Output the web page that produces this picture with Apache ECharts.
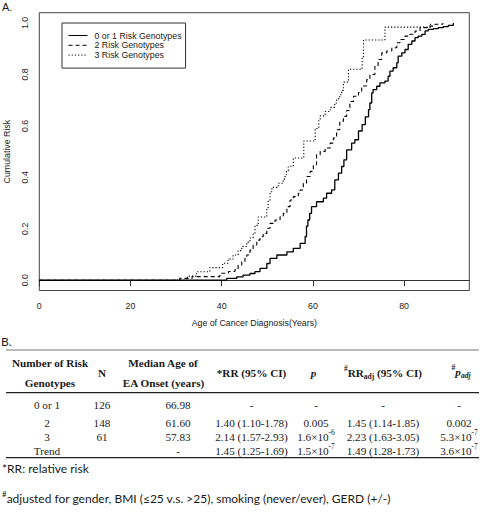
<!DOCTYPE html>
<html><head><meta charset="utf-8">
<script src="https://cdn.jsdelivr.net/npm/echarts@6/dist/echarts.min.js"></script>
<style>html,body{margin:0;padding:0;background:#fff}#c{width:480px;height:515px}</style>
</head><body><div id="c"></div>
<script>
// ---------- Panel A data ----------
const seriesNames = ['0 or 1 Risk Genotypes', '2 Risk Genotypes', '3 Risk Genotypes'];
const xTicks = [0, 20, 40, 60, 80];
const yTicks = [0, 0.2, 0.4, 0.6, 0.8, 1.0];

const ages01 = [0, 41.1, 43.3, 44.7, 46.2, 47.3, 48.4, 49.9, 50.6, 52.1, 54.3, 55.7, 57.2, 58.3, 58.6, 58.9, 59.3, 59.7, 60.8, 62.3, 63.0, 64.1, 64.8, 65.6, 66.3, 66.8, 67.4, 68.5, 69.2, 70.0, 70.8, 71.5, 72.2, 72.5, 72.9, 73.2, 74.0, 74.7, 75.8, 76.5, 76.9, 77.6, 78.4, 78.7, 79.5, 80.2, 80.9, 81.7, 82.4, 83.1, 83.9, 84.6, 85.3, 86.4, 87.5, 88.6, 89.7, 90.8];
const risk01 = [0, 0.007, 0.013, 0.020, 0.026, 0.033, 0.046, 0.065, 0.085, 0.098, 0.110, 0.124, 0.143, 0.170, 0.210, 0.234, 0.260, 0.286, 0.305, 0.319, 0.338, 0.351, 0.390, 0.416, 0.442, 0.468, 0.507, 0.533, 0.546, 0.580, 0.605, 0.635, 0.663, 0.689, 0.728, 0.741, 0.754, 0.767, 0.774, 0.793, 0.813, 0.826, 0.845, 0.871, 0.884, 0.897, 0.917, 0.930, 0.943, 0.949, 0.956, 0.969, 0.975, 0.978, 0.982, 0.986, 0.991, 1.0];

const ages2 = [0, 30.8, 33.5, 39.6, 41.5, 42.9, 43.6, 44.4, 45.1, 45.5, 46.2, 46.9, 47.7, 48.4, 49.1, 49.9, 50.6, 51.7, 52.8, 53.5, 54.3, 55.0, 55.7, 56.8, 57.2, 57.9, 58.6, 59.4, 60.1, 60.8, 61.6, 62.7, 63.8, 64.5, 65.2, 65.9, 66.7, 67.4, 68.1, 68.9, 70.0, 70.7, 71.8, 72.5, 73.6, 74.3, 75.1, 76.2, 77.3, 78.4, 79.1, 80.2, 81.3, 82.4, 83.5, 85.3, 86.8, 88.5];
const risk2 = [0, 0.007, 0.014, 0.027, 0.034, 0.041, 0.059, 0.071, 0.085, 0.098, 0.117, 0.137, 0.156, 0.169, 0.182, 0.202, 0.221, 0.234, 0.247, 0.260, 0.286, 0.312, 0.325, 0.338, 0.351, 0.377, 0.403, 0.423, 0.449, 0.488, 0.501, 0.514, 0.533, 0.553, 0.585, 0.618, 0.637, 0.660, 0.695, 0.715, 0.730, 0.755, 0.780, 0.800, 0.832, 0.858, 0.884, 0.891, 0.904, 0.923, 0.936, 0.949, 0.956, 0.969, 0.982, 0.988, 0.995, 1.0];

const ages3 = [0, 32.5, 34.5, 37.4, 40.2, 41.4, 42.5, 43.6, 44.4, 45.5, 46.2, 46.9, 47.3, 48.0, 49.9, 50.2, 50.6, 51.0, 52.4, 53.5, 53.9, 54.2, 54.6, 55.7, 58.0, 60.5, 61.3, 61.6, 62.7, 63.8, 64.8, 65.2, 65.9, 66.3, 66.7, 67.8, 70.8, 71.1, 75.8, 85.8];
const risk3 = [0, 0.016, 0.033, 0.049, 0.066, 0.082, 0.098, 0.115, 0.131, 0.148, 0.164, 0.180, 0.213, 0.246, 0.279, 0.311, 0.344, 0.361, 0.377, 0.393, 0.410, 0.426, 0.443, 0.475, 0.541, 0.590, 0.623, 0.639, 0.656, 0.672, 0.689, 0.705, 0.721, 0.738, 0.770, 0.820, 0.869, 0.934, 0.984, 1.0];

// ---------- Panel B table data ----------
const colGenotypes = ['0 or 1', '2', '3', 'Trend'];
const colN = ['126', '148', '61', ''];
const colMedian = ['66.98', '61.60', '57.83', '-'];
const colRR = ['-', '1.40 (1.10-1.78)', '2.14 (1.57-2.93)', '1.45 (1.25-1.69)'];
const colP = ['-', '0.005', '1.6e-6', '1.5e-7'];
const colRRadj = ['-', '1.45 (1.14-1.85)', '2.23 (1.63-3.05)', '1.49 (1.28-1.73)'];
const colPadj = ['-', '0.002', '5.3e-7', '3.6e-7'];
const footnote1 = '*RR: relative risk';
const footnote2 = 'adjusted for gender, BMI (\u226425 v.s. >25), smoking (never/ever), GERD (+/-)';

// ---------- build ----------
const sans = 'Liberation Sans';
const serif = 'Liberation Serif';
const ink = '#1a1a1a';
const fs = 8.8;

function pairs(a, r) { return a.map((v, i) => [v, r[i]]); }
const lineTypes = ['solid', [4, 3], [1.2, 2]];
const lineWidths = [1.3, 1.1, 1.1];
const allData = [pairs(ages01, risk01), pairs(ages2, risk2), pairs(ages3, risk3)];

const series = seriesNames.map((n, i) => ({
  name: n, type: 'line', step: 'end', data: allData[i],
  showSymbol: false, symbol: 'none', silent: true,
  itemStyle: { color: '#000' },
  lineStyle: { color: '#000', width: lineWidths[i], type: lineTypes[i] },
  z: 3 - i
}));

const TFS = 11.2;
const rich = {
  n: { fontFamily: serif, fontSize: TFS, lineHeight: 16, fill: ink },
  b: { fontFamily: serif, fontSize: TFS, fontWeight: 'bold', lineHeight: 16, fill: ink },
  bi: { fontFamily: serif, fontSize: TFS, fontWeight: 'bold', fontStyle: 'italic', lineHeight: 16, fill: ink },
  sup: { fontFamily: serif, fontSize: 7.5, lineHeight: 7, verticalAlign: 'top', fill: ink },
  bsup: { fontFamily: serif, fontSize: 7.5, fontWeight: 'bold', lineHeight: 7, verticalAlign: 'top', fill: ink },
  bsub: { fontFamily: serif, fontSize: 7.5, fontWeight: 'bold', lineHeight: 7, verticalAlign: 'bottom', fill: ink },
  bisub: { fontFamily: serif, fontSize: 7.5, fontWeight: 'bold', fontStyle: 'italic', lineHeight: 7, verticalAlign: 'bottom', fill: ink },
  fs: { fontFamily: 'Lato', fontSize: 12, lineHeight: 16, fill: ink },
  fsup: { fontFamily: 'Lato', fontSize: 8, lineHeight: 6, verticalAlign: 'top', fill: ink }
};
function sci(s) {
  if (s.indexOf('e') >= 0) { const p = s.split('e'); return '{n|' + p[0] + '\u00d710}{sup|' + p[1] + '}'; }
  return '{n|' + s + '}';
}
function T(x, y, text, extra) {
  return { type: 'text', x: x, y: y, silent: true,
    style: Object.assign({ text: text, rich: rich, align: 'center', verticalAlign: 'middle',
      fontFamily: serif, fontSize: TFS, fill: ink }, extra || {}) };
}
function L(x1, y1, x2, y2, w, c) {
  return { type: 'line', silent: true, shape: { x1: x1, y1: y1, x2: x2, y2: y2 }, style: { stroke: c, lineWidth: w } };
}

const colX = [47, 102, 178, 251.5, 316, 383, 459];
const rowY = [405, 422.7, 436.7, 450.7];
const g = [];
g.push({ type: 'text', x: 2, y: 1, silent: true, style: { text: 'A.', fontFamily: sans, fontSize: 11, fill: ink } });
g.push({ type: 'text', x: 1, y: 335, silent: true, style: { text: 'B.', fontFamily: 'Lato', fontSize: 12, fill: ink } });
g.push(L(6, 350, 479, 350, 1, '#777'));
g.push(L(6, 392.7, 479, 392.7, 1.3, '#222'));
g.push(L(6, 457.7, 479, 457.7, 1.3, '#222'));
g.push(T(50, 363.3, '{b|Number of Risk}'));
g.push(T(50, 383.3, '{b|Genotypes}'));
g.push(T(colX[1], 373.3, '{b|N}'));
g.push(T(163, 363.3, '{b|Median Age of}'));
g.push(T(163.5, 383.3, '{b|EA Onset (years)}'));
g.push(T(colX[3], 372.5, '{b|*RR (95% CI)}'));
g.push(T(313.5, 372.5, '{bi|p}'));
g.push(T(383, 372.5, '{bsup|#}{b|RR}{bsub|adj}{b| (95% CI)}'));
g.push(T(461, 371.5, '{bsup|#}{bi|p}{bisub|adj}'));
const cols = [colGenotypes, colN, colMedian, colRR, colP, colRRadj, colPadj];
cols.forEach((col, ci) => {
  col.forEach((v, ri) => {
    if (v === '') return;
    g.push(T(colX[ci], rowY[ri], (ci === 4 || ci === 6) ? sci(v) : '{n|' + v + '}'));
  });
});
g.push(T(2, 468.3, '{fs|' + footnote1 + '}', { align: 'left' }));
g.push(T(2, 498.3, '{fsup|#}{fs|' + footnote2 + '}', { align: 'left' }));

const chart = echarts.init(document.getElementById('c'), null, { renderer: 'svg', width: 480, height: 515 });
chart.setOption({
  animation: false,
  backgroundColor: '#fff',
  textStyle: { fontFamily: sans },
  grid: { left: 39.3, right: 10.7, top: 12.7, bottom: 224.5, show: true, borderColor: '#444', borderWidth: 1,
    containLabel: false, outerBoundsMode: 'none' },
  legend: {
    data: seriesNames, orient: 'vertical', left: 62, top: 23,
    padding: [8, 4, 8.5, 6], borderColor: '#333', borderWidth: 1, borderRadius: 0,
    itemWidth: 19, itemHeight: 10, itemGap: 0.8, selectedMode: false,
    itemStyle: { opacity: 0, borderWidth: 0 },
    lineStyle: { width: 1 },
    textStyle: { fontFamily: sans, fontSize: fs, color: ink, padding: [0, 0, 0, 2] }
  },
  xAxis: {
    type: 'value', min: 0, max: 94.3, interval: 20,
    name: 'Age of Cancer Diagnosis(Years)', nameLocation: 'middle', nameGap: 28,
    nameTextStyle: { fontFamily: sans, fontSize: fs, color: ink },
    axisLine: { show: true, lineStyle: { color: '#333', width: 1 } },
    axisTick: { show: true, length: 6, customValues: xTicks, lineStyle: { color: '#333' } },
    axisLabel: { customValues: xTicks, fontSize: fs, color: ink, margin: 11 },
    splitLine: { show: false }
  },
  yAxis: {
    type: 'value', min: -0.04, max: 1.04,
    name: 'Cumulative Risk', nameLocation: 'middle', nameGap: 27.5,
    nameTextStyle: { fontFamily: sans, fontSize: fs, color: ink },
    axisLine: { show: false }, axisTick: { show: false },
    axisLabel: { customValues: yTicks, rotate: 90, fontSize: fs, color: ink, margin: 10,
      formatter: v => v.toFixed(1) },
    splitLine: { show: false }
  },
  series: series,
  graphic: { elements: g }
});
</script></body></html>
